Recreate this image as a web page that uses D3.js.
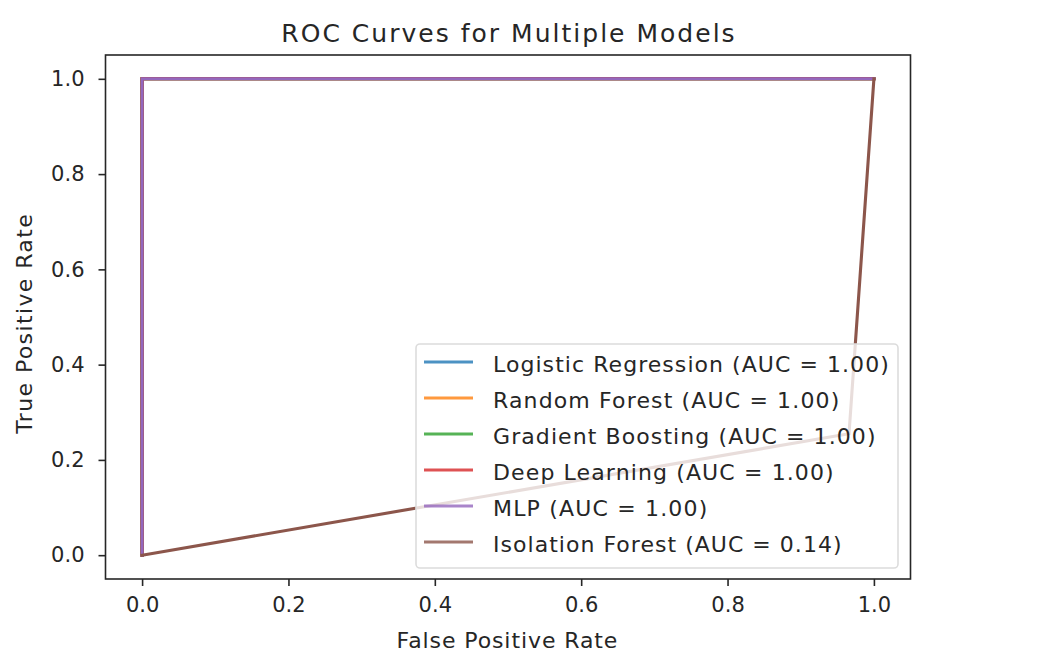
<!DOCTYPE html>
<html>
<head>
<meta charset="utf-8">
<script src="https://cdn.jsdelivr.net/npm/d3@7"></script>
<style>
  body { margin: 0; background: #fff; }
  text { font-family: "DejaVu Sans", sans-serif; fill: #262626; }
</style>
</head>
<body>
<svg id="chart" width="1053" height="672"></svg>
<script>
// series data
const models = ["Logistic Regression", "Random Forest", "Gradient Boosting", "Deep Learning", "MLP", "Isolation Forest"];
const aucs = [1.00, 1.00, 1.00, 1.00, 1.00, 0.14];
const fprs = [
  [0, 0, 1],
  [0, 0, 1],
  [0, 0, 1],
  [0, 0, 1],
  [0, 0, 1],
  [0, 0.966, 1]
];
const tprs = [
  [0, 1, 1],
  [0, 1, 1],
  [0, 1, 1],
  [0, 1, 1],
  [0, 1, 1],
  [0, 0.255, 1]
];
const ticks = [0, 0.2, 0.4, 0.6, 0.8, 1.0];
const colors = ["#1f77b4", "#ff7f0e", "#2ca02c", "#d62728", "#9467bd", "#8c564b"];

const plot = { left: 105.5, right: 910.5, top: 55, bottom: 579 };
const svg = d3.select("#chart");

const x = d3.scaleLinear().domain([-0.05, 1.05]).range([plot.left, plot.right]);
const y = d3.scaleLinear().domain([-0.05, 1.05]).range([plot.bottom, plot.top]);

// the reference text runs a little wider than DejaVu at this size
function stretch(sel, k) {
  sel.each(function () {
    const w = this.getComputedTextLength();
    d3.select(this).attr("textLength", w * k).attr("lengthAdjust", "spacing");
  });
}

// axes
const xAxis = d3.axisBottom(x).tickValues(ticks).tickFormat(d3.format(".1f")).tickSize(7).tickPadding(11).tickSizeOuter(0);
const yAxis = d3.axisLeft(y).tickValues(ticks).tickFormat(d3.format(".1f")).tickSize(7).tickPadding(14).tickSizeOuter(0);

const gx = svg.append("g").attr("transform", `translate(0,${plot.bottom})`).call(xAxis);
const gy = svg.append("g").attr("transform", `translate(${plot.left},0)`).call(yAxis);
[gx, gy].forEach(g => {
  g.select(".domain").remove();
  g.selectAll(".tick line").attr("stroke", "#262626").attr("stroke-width", 1.6);
  g.selectAll(".tick text").attr("font-size", 21).attr("font-family", "DejaVu Sans").attr("fill", "#262626");
});

// lines
const line = d3.line().x(d => x(d[0])).y(d => y(d[1]));
const curves = models.map((m, i) => d3.zip(fprs[i], tprs[i]));

svg.append("g").selectAll("path")
  .data(curves)
  .join("path")
  .attr("d", line)
  .attr("fill", "none")
  .attr("stroke", (d, i) => colors[i])
  .attr("stroke-width", 3.1)
  .attr("stroke-linecap", "square");

// spines
svg.append("rect")
  .attr("x", plot.left).attr("y", plot.top)
  .attr("width", plot.right - plot.left).attr("height", plot.bottom - plot.top)
  .attr("fill", "none").attr("stroke", "#262626").attr("stroke-width", 1.6);

// legend
const lg = { x: 416, y: 344, w: 482, h: 224, row: 36 };
const legend = svg.append("g");
legend.append("rect")
  .attr("x", lg.x).attr("y", lg.y).attr("width", lg.w).attr("height", lg.h)
  .attr("rx", 4)
  .attr("fill", "#fff").attr("fill-opacity", 0.8)
  .attr("stroke", "#dcdcdc").attr("stroke-width", 1.6);

const items = legend.selectAll("g.item")
  .data(models)
  .join("g")
  .attr("class", "item")
  .attr("transform", (d, i) => `translate(0,${lg.y + 18 + i * lg.row})`);

items.append("line")
  .attr("x1", lg.x + 8).attr("x2", lg.x + 57)
  .attr("stroke", (d, i) => colors[i])
  .attr("stroke-width", 3.1)
  .attr("stroke-opacity", 0.8);

items.append("text")
  .attr("x", lg.x + 77)
  .attr("dy", "0.45em")
  .attr("font-size", 22)
  .text((d, i) => `${d} (AUC = ${aucs[i].toFixed(2)})`)
  .call(stretch, 1.09);

// title and labels
svg.append("text")
  .attr("x", 508).attr("y", 42)
  .attr("text-anchor", "middle").attr("font-size", 25)
  .text("ROC Curves for Multiple Models")
  .call(stretch, 1.148);

svg.append("text")
  .attr("x", 507).attr("y", 648)
  .attr("text-anchor", "middle").attr("font-size", 22)
  .text("False Positive Rate")
  .call(stretch, 1.08);

svg.append("text")
  .attr("transform", `translate(32,324) rotate(-90)`)
  .attr("text-anchor", "middle").attr("font-size", 22)
  .text("True Positive Rate")
  .call(stretch, 1.12);
</script>
</body>
</html>
